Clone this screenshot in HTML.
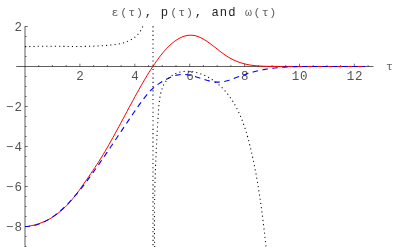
<!DOCTYPE html>
<html><head><meta charset="utf-8"><title>plot</title>
<style>
html,body{margin:0;padding:0;background:#fff;}
body{width:400px;height:247px;overflow:hidden;}
svg{display:block;}
text{font-family:"Liberation Mono",monospace;font-size:12.5px;fill:#505050;}
text.lt{font-size:11.6px;fill:#606060;}
text.dk{font-size:12.2px;fill:#1c1c1c;}
</style></head><body>
<svg width="400" height="247" viewBox="0 0 400 247">
<rect width="400" height="247" fill="#fff"/>
<g fill="none" stroke="#000" stroke-width="0.63">
<path d="M16.3 66.5H373.5M25.0 26.2V247"/>
<path d="M38.73 66.50V65.00M52.45 66.50V65.00M66.17 66.50V65.00M79.90 66.50V63.70M93.62 66.50V65.00M107.35 66.50V65.00M121.08 66.50V65.00M134.80 66.50V63.70M148.52 66.50V65.00M162.25 66.50V65.00M175.97 66.50V65.00M189.70 66.50V63.70M203.42 66.50V65.00M217.15 66.50V65.00M230.88 66.50V65.00M244.60 66.50V63.70M258.32 66.50V65.00M272.05 66.50V65.00M285.77 66.50V65.00M299.50 66.50V63.70M313.22 66.50V65.00M326.95 66.50V65.00M340.68 66.50V65.00M354.40 66.50V63.70M368.12 66.50V65.00M25.00 246.50H26.50M25.00 236.50H26.50M25.00 226.50H27.80M25.00 216.50H26.50M25.00 206.50H26.50M25.00 196.50H26.50M25.00 186.50H27.80M25.00 176.50H26.50M25.00 166.50H26.50M25.00 156.50H26.50M25.00 146.50H27.80M25.00 136.50H26.50M25.00 126.50H26.50M25.00 116.50H26.50M25.00 106.50H27.80M25.00 96.50H26.50M25.00 86.50H26.50M25.00 76.50H26.50M25.00 56.50H26.50M25.00 46.50H26.50M25.00 36.50H26.50M25.00 26.50H27.80" stroke-width="0.55"/>
</g>
<g style="will-change:transform;opacity:0.99"><text x="80.10" y="79.70" text-anchor="middle" xml:space="preserve">2</text><text x="135.00" y="79.70" text-anchor="middle" xml:space="preserve">4</text><text x="189.90" y="79.70" text-anchor="middle" xml:space="preserve">6</text><text x="244.80" y="79.70" text-anchor="middle" xml:space="preserve">8</text><text x="295.53 303.86" y="79.70" text-anchor="middle" xml:space="preserve">10</text><text x="350.43 358.76" y="79.70" text-anchor="middle" xml:space="preserve">12</text><text x="18.14" y="31.10" text-anchor="middle" xml:space="preserve">2</text><text x="9.81 18.14" y="111.10" text-anchor="middle" xml:space="preserve">−2</text><text x="9.81 18.14" y="151.10" text-anchor="middle" xml:space="preserve">−4</text><text x="9.81 18.14" y="191.10" text-anchor="middle" xml:space="preserve">−6</text><text x="9.81 18.14" y="231.10" text-anchor="middle" xml:space="preserve">−8</text>
<text x="389.4" y="70" text-anchor="middle" style="font-size:11.6px;fill:#666">τ</text>
<text x="114.97" y="16.20" text-anchor="middle" class="lt">ε</text><text x="123.65" y="16.20" text-anchor="middle" class="lt">(</text><text x="131.83" y="16.20" text-anchor="middle" class="lt">τ</text><text x="139.56" y="16.20" text-anchor="middle" class="lt">)</text><text x="148.49" y="16.20" text-anchor="middle" class="dk">,</text><text x="164.34" y="16.20" text-anchor="middle" class="dk">p</text><text x="173.63" y="16.20" text-anchor="middle" class="lt">(</text><text x="181.81" y="16.20" text-anchor="middle" class="lt">τ</text><text x="189.53" y="16.20" text-anchor="middle" class="lt">)</text><text x="198.47" y="16.20" text-anchor="middle" class="dk">,</text><text x="215.12" y="16.20" text-anchor="middle" class="dk">a</text><text x="223.46" y="16.20" text-anchor="middle" class="dk">n</text><text x="231.79" y="16.20" text-anchor="middle" class="dk">d</text><text x="248.44" y="16.20" text-anchor="middle" class="lt">ω</text><text x="256.93" y="16.20" text-anchor="middle" class="lt">(</text><text x="265.11" y="16.20" text-anchor="middle" class="lt">τ</text><text x="272.83" y="16.20" text-anchor="middle" class="lt">)</text>
</g>
<path d="M25.00 226.75L27.00 226.48L29.00 226.15L31.00 225.77L33.00 225.33L35.00 224.82L37.00 224.25L39.00 223.61L41.00 222.89L43.00 222.10L45.00 221.23L47.00 220.27L49.00 219.22L51.00 218.08L53.00 216.85L55.00 215.51L57.00 214.08L59.00 212.53L61.00 210.88L63.00 209.11L65.00 207.22L67.00 205.22L69.00 203.08L71.00 200.82L73.00 198.43L75.00 195.91L77.00 193.28L79.00 190.55L81.00 187.75L83.00 184.90L85.00 182.02L87.00 179.12L89.00 176.21L91.00 173.29L93.00 170.34L95.00 167.35L97.00 164.30L99.00 161.20L101.00 158.02L103.00 154.76L105.00 151.42L107.00 148.00L109.00 144.52L111.00 140.98L113.00 137.39L115.00 133.75L117.00 130.08L119.00 126.38L121.00 122.65L123.00 118.92L125.00 115.17L127.00 111.43L129.00 107.70L131.00 103.98L133.00 100.28L135.00 96.61L137.00 92.99L139.00 89.40L141.00 85.87L143.00 82.40L145.00 79.00L147.00 75.67L149.00 72.43L151.00 69.27L153.00 66.21L155.00 63.26L157.00 60.41L159.00 57.69L161.00 55.09L163.00 52.63L165.00 50.31L167.00 48.14L169.00 46.12L171.00 44.26L173.00 42.56L175.00 41.02L177.00 39.66L179.00 38.46L181.00 37.45L183.00 36.62L185.00 35.97L187.00 35.51L189.00 35.24L191.00 35.18L193.00 35.31L195.00 35.65L197.00 36.19L199.00 36.93L201.00 37.84L203.00 38.90L205.00 40.09L207.00 41.40L209.00 42.80L211.00 44.27L213.00 45.79L215.00 47.35L217.00 48.92L219.00 50.49L221.00 52.03L223.00 53.52L225.00 54.95L227.00 56.29L229.00 57.52L231.00 58.65L233.00 59.68L235.00 60.61L237.00 61.45L239.00 62.21L241.00 62.88L243.00 63.47L245.00 63.99L247.00 64.44L249.00 64.83L251.00 65.16L253.00 65.44L255.00 65.67L257.00 65.86L259.00 66.00L261.00 66.12L263.00 66.21L265.00 66.27L267.00 66.32L269.00 66.35L271.00 66.37L273.00 66.39L275.00 66.41L277.00 66.42L279.00 66.43L281.00 66.45L283.00 66.46L285.00 66.47L287.00 66.48L289.00 66.49L291.00 66.49L293.00 66.50L295.00 66.50L297.00 66.51L299.00 66.51L301.00 66.52L303.00 66.52L305.00 66.52L307.00 66.52L309.00 66.52L311.00 66.52L313.00 66.52L315.00 66.52L317.00 66.51L319.00 66.51L321.00 66.51L323.00 66.51L325.00 66.51L327.00 66.50L329.00 66.50L331.00 66.50L333.00 66.50L335.00 66.49L337.00 66.49L339.00 66.49L341.00 66.49L343.00 66.49L345.00 66.49L347.00 66.49L349.00 66.49L351.00 66.49L353.00 66.49L355.00 66.49L357.00 66.49L359.00 66.50L361.00 66.50L363.00 66.51L365.00 66.51" fill="none" stroke="#ff0000" stroke-width="1.0"/>
<path d="M25.00 226.47L27.00 226.45L29.00 226.32L31.00 226.07L33.00 225.72L35.00 225.27L37.00 224.71L39.00 224.04L41.00 223.27L43.00 222.40L45.00 221.44L47.00 220.37L49.00 219.21L51.00 217.95L53.00 216.60L55.00 215.16L57.00 213.62L59.00 212.00L61.00 210.29L63.00 208.49L65.00 206.61L67.00 204.64L69.00 202.59L71.00 200.46L73.00 198.25L75.00 195.96L77.00 193.60L79.00 191.17L81.00 188.68L83.00 186.13L85.00 183.52L87.00 180.86L89.00 178.15L91.00 175.40L93.00 172.62L95.00 169.80L97.00 166.95L99.00 164.07L101.00 161.17L103.00 158.26L105.00 155.33L107.00 152.39L109.00 149.44L111.00 146.47L113.00 143.50L115.00 140.52L117.00 137.54L119.00 134.56L121.00 131.57L123.00 128.59L125.00 125.61L127.00 122.64L129.00 119.68L131.00 116.72L133.00 113.78L135.00 110.85L137.00 107.95L139.00 105.10L141.00 102.32L143.00 99.62L145.00 97.04L147.00 94.59L149.00 92.30L151.00 90.18L153.00 88.25L155.00 86.53L157.00 84.99L159.00 83.60L161.00 82.32L163.00 81.11L165.00 79.97L167.00 78.90L169.00 77.92L171.00 77.04L173.00 76.27L175.00 75.61L177.00 75.09L179.00 74.72L181.00 74.49L183.00 74.43L185.00 74.52L187.00 74.73L189.00 75.07L191.00 75.49L193.00 76.00L195.00 76.57L197.00 77.19L199.00 77.83L201.00 78.48L203.00 79.13L205.00 79.75L207.00 80.33L209.00 80.86L211.00 81.32L213.00 81.68L215.00 81.94L217.00 82.08L219.00 82.08L221.00 81.93L223.00 81.65L225.00 81.25L227.00 80.76L229.00 80.18L231.00 79.53L233.00 78.83L235.00 78.09L237.00 77.33L239.00 76.57L241.00 75.82L243.00 75.09L245.00 74.40L247.00 73.75L249.00 73.14L251.00 72.56L253.00 72.01L255.00 71.50L257.00 71.02L259.00 70.58L261.00 70.16L263.00 69.77L265.00 69.41L267.00 69.08L269.00 68.77L271.00 68.48L273.00 68.23L275.00 67.99L277.00 67.77L279.00 67.58L281.00 67.40L283.00 67.25L285.00 67.11L287.00 66.99L289.00 66.88L291.00 66.79L293.00 66.71L295.00 66.64L297.00 66.58L299.00 66.54L301.00 66.51L303.00 66.48L305.00 66.46L307.00 66.45L309.00 66.45L311.00 66.45L313.00 66.45L315.00 66.46L317.00 66.47L319.00 66.49L321.00 66.50L323.00 66.51L325.00 66.52L327.00 66.53L329.00 66.54L331.00 66.54L333.00 66.54L335.00 66.53L337.00 66.53L339.00 66.52L341.00 66.51L343.00 66.51L345.00 66.50L347.00 66.49L349.00 66.48L351.00 66.48L353.00 66.47L355.00 66.47L357.00 66.47L359.00 66.48L361.00 66.49L363.00 66.50L365.00 66.52" fill="none" stroke="#0000ff" stroke-width="1.1" stroke-dasharray="5.6 4.4" stroke-dashoffset="0.6"/>
<g fill="none" stroke="#000" stroke-width="1.05" stroke-dasharray="1.1 3.17">
<path d="M24.96 46.72L26.02 46.67L27.09 46.63L28.15 46.58L29.21 46.55L30.27 46.51L31.33 46.48L32.39 46.45L33.44 46.42L34.50 46.40L35.56 46.38L36.61 46.36L37.67 46.34L38.72 46.32L39.77 46.31L40.83 46.30L41.88 46.29L42.93 46.29L43.98 46.28L45.03 46.28L46.08 46.28L47.13 46.28L48.18 46.28L49.23 46.28L50.27 46.28L51.32 46.29L52.37 46.29L53.42 46.30L54.46 46.31L55.51 46.32L56.56 46.32L57.60 46.33L58.65 46.34L59.69 46.35L60.74 46.36L61.79 46.37L62.83 46.38L63.88 46.39L64.92 46.40L65.97 46.41L67.01 46.42L68.06 46.42L69.11 46.43L70.15 46.44L71.20 46.44L72.24 46.45L73.29 46.45L74.34 46.45L75.39 46.45L76.43 46.45L77.48 46.45L78.53 46.45L79.58 46.44L80.63 46.43L81.68 46.42L82.73 46.41L83.78 46.40L84.83 46.38L85.88 46.37L86.93 46.35L87.98 46.32L89.04 46.30L90.09 46.27L91.15 46.24L92.20 46.21L93.26 46.17L94.32 46.13L95.37 46.09L96.43 46.04L97.49 45.99L98.55 45.94L99.61 45.88L100.68 45.82L101.74 45.75L102.80 45.68L103.87 45.61L104.93 45.53L106.00 45.45L107.07 45.37L108.14 45.28L109.21 45.18L110.28 45.08L111.35 44.97L112.41 44.85L113.47 44.72L114.53 44.58L115.59 44.43L116.64 44.27L117.68 44.09L118.72 43.90L119.74 43.69L120.77 43.46L121.78 43.22L122.78 42.96L123.77 42.68L124.75 42.37L125.72 42.05L126.67 41.70L127.62 41.33L128.54 40.93L129.46 40.51L130.35 40.06L131.23 39.58L132.10 39.08L132.94 38.54L133.77 37.98L134.57 37.38L135.36 36.75L136.12 36.08L136.86 35.38L137.58 34.64L138.28 33.87L138.95 33.06L139.60 32.21L140.22 31.32L140.81 30.38L141.38 29.41L141.92 28.39L142.43 27.33L142.91 26.23"/>
<path d="M154.70 247.01L154.68 245.99L154.66 244.97L154.64 243.95L154.62 242.94L154.60 241.92L154.58 240.91L154.56 239.89L154.54 238.88L154.53 237.87L154.51 236.85L154.50 235.84L154.48 234.83L154.47 233.82L154.46 232.81L154.45 231.80L154.44 230.80L154.43 229.79L154.43 228.78L154.42 227.77L154.41 226.77L154.41 225.76L154.41 224.76L154.40 223.76L154.40 222.75L154.40 221.75L154.40 220.75L154.40 219.75L154.40 218.74L154.40 217.74L154.41 216.74L154.41 215.74L154.41 214.74L154.42 213.74L154.43 212.75L154.43 211.75L154.44 210.75L154.45 209.75L154.46 208.76L154.47 207.76L154.48 206.76L154.49 205.77L154.50 204.77L154.52 203.78L154.53 202.78L154.55 201.79L154.56 200.79L154.58 199.80L154.60 198.81L154.62 197.81L154.63 196.82L154.65 195.83L154.67 194.83L154.69 193.84L154.72 192.85L154.74 191.86L154.76 190.87L154.79 189.87L154.81 188.88L154.84 187.89L154.86 186.90L154.89 185.91L154.92 184.92L154.94 183.93L154.97 182.94L155.00 181.95L155.03 180.96L155.06 179.96L155.09 178.97L155.13 177.98L155.16 176.99L155.19 176.00L155.23 175.01L155.26 174.02L155.29 173.03L155.33 172.04L155.37 171.05L155.40 170.06L155.44 169.07L155.48 168.08L155.52 167.09L155.56 166.10L155.60 165.11L155.64 164.12L155.68 163.13L155.72 162.14L155.76 161.15L155.81 160.15L155.85 159.16L155.89 158.17L155.94 157.18L155.98 156.19L156.03 155.19L156.07 154.20L156.12 153.21L156.17 152.22L156.22 151.22L156.26 150.23L156.31 149.24L156.36 148.24L156.41 147.25L156.46 146.25L156.51 145.26L156.56 144.26L156.61 143.27L156.67 142.27L156.72 141.28L156.77 140.28L156.82 139.28L156.88 138.28L156.93 137.29L156.99 136.29L157.04 135.29L157.10 134.29L157.15 133.29L157.21 132.29L157.27 131.29L157.32 130.29L157.38 129.29L157.44 128.29L157.50 127.28L157.56 126.28L157.62 125.28L157.68 124.27L157.74 123.27L157.80 122.26L157.86 121.26L157.92 120.25L157.98 119.25L158.04 118.24L158.10 117.23L158.17 116.22L158.23 115.21L158.29 114.20L158.35 113.19L158.42 112.18L158.48 111.17L158.55 110.16L158.62 109.14L158.69 108.13L158.77 107.12L158.85 106.11L158.94 105.10L159.04 104.09L159.14 103.09L159.25 102.08L159.37 101.08L159.51 100.08L159.65 99.09L159.80 98.09L159.97 97.10L160.15 96.12L160.35 95.13L160.56 94.15L160.79 93.18L161.04 92.21L161.30 91.24L161.58 90.28L161.88 89.33L162.21 88.38L162.55 87.44L162.92 86.51L163.32 85.59L163.76 84.70L164.23 83.83L164.73 82.98L165.27 82.16L165.84 81.36L166.45 80.59L167.09 79.85L167.75 79.14L168.45 78.45L169.17 77.79L169.91 77.16L170.68 76.56L171.48 75.99L172.29 75.45L173.12 74.94L173.98 74.46L174.85 74.01L175.73 73.60L176.63 73.22L177.55 72.87L178.47 72.56L179.41 72.28L180.36 72.04L181.31 71.83L182.27 71.66L183.24 71.52L184.21 71.41L185.19 71.34L186.17 71.29L187.16 71.28L188.15 71.30L189.15 71.35L190.14 71.43L191.14 71.53L192.13 71.67L193.13 71.83L194.13 72.01L195.12 72.22L196.11 72.46L197.10 72.72L198.09 73.00L199.07 73.31L200.05 73.63L201.02 73.98L201.99 74.35L202.95 74.74L203.90 75.15L204.84 75.57L205.77 76.02L206.70 76.48L207.61 76.95L208.52 77.44L209.41 77.95L210.29 78.47L211.15 79.00L212.01 79.55L212.85 80.11L213.68 80.68L214.50 81.27L215.30 81.86L216.10 82.47L216.88 83.09L217.65 83.72L218.41 84.37L219.16 85.02L219.90 85.68L220.62 86.36L221.34 87.04L222.04 87.73L222.73 88.44L223.42 89.15L224.09 89.87L224.75 90.60L225.40 91.34L226.04 92.08L226.67 92.84L227.29 93.60L227.90 94.36L228.50 95.14L229.09 95.92L229.67 96.71L230.24 97.51L230.80 98.31L231.35 99.12L231.89 99.94L232.43 100.76L232.95 101.59L233.47 102.43L233.98 103.27L234.47 104.12L234.97 104.97L235.45 105.83L235.92 106.69L236.39 107.56L236.85 108.44L237.30 109.32L237.74 110.21L238.17 111.10L238.60 111.99L239.02 112.89L239.44 113.79L239.84 114.70L240.24 115.62L240.63 116.53L241.02 117.45L241.40 118.38L241.77 119.31L242.14 120.24L242.50 121.18L242.85 122.12L243.20 123.06L243.54 124.00L243.88 124.95L244.21 125.90L244.54 126.86L244.86 127.82L245.18 128.77L245.49 129.74L245.79 130.70L246.09 131.67L246.39 132.63L246.68 133.60L246.97 134.58L247.25 135.55L247.53 136.52L247.80 137.50L248.07 138.48L248.34 139.46L248.60 140.43L248.86 141.41L249.12 142.40L249.37 143.38L249.62 144.36L249.86 145.34L250.11 146.32L250.35 147.31L250.59 148.29L250.82 149.27L251.05 150.25L251.28 151.23L251.51 152.21L251.74 153.20L251.96 154.18L252.18 155.16L252.40 156.14L252.62 157.12L252.83 158.09L253.04 159.07L253.25 160.05L253.46 161.03L253.66 162.01L253.87 162.99L254.07 163.96L254.27 164.94L254.47 165.92L254.66 166.90L254.85 167.87L255.05 168.85L255.24 169.83L255.42 170.80L255.61 171.78L255.79 172.76L255.97 173.73L256.15 174.71L256.33 175.69L256.51 176.66L256.68 177.64L256.86 178.62L257.03 179.59L257.20 180.57L257.37 181.55L257.53 182.52L257.70 183.50L257.86 184.48L258.02 185.46L258.18 186.43L258.34 187.41L258.50 188.39L258.66 189.37L258.81 190.34L258.96 191.32L259.11 192.30L259.27 193.28L259.41 194.26L259.56 195.24L259.71 196.22L259.85 197.20L260.00 198.18L260.14 199.16L260.28 200.14L260.42 201.12L260.56 202.10L260.70 203.08L260.84 204.07L260.97 205.05L261.11 206.03L261.24 207.02L261.37 208.00L261.50 208.99L261.63 209.97L261.76 210.96L261.89 211.94L262.02 212.93L262.15 213.92L262.28 214.91L262.40 215.89L262.53 216.88L262.65 217.87L262.77 218.86L262.90 219.85L263.02 220.85L263.14 221.84L263.26 222.83L263.38 223.82L263.50 224.82L263.62 225.81L263.73 226.81L263.85 227.81L263.97 228.80L264.09 229.80L264.20 230.80L264.32 231.80L264.43 232.80L264.55 233.80L264.66 234.81L264.78 235.81L264.89 236.81L265.00 237.82L265.12 238.82L265.23 239.83L265.34 240.84L265.46 241.85L265.57 242.86L265.68 243.87L265.79 244.88L265.91 245.89L266.02 246.91"/>
<path d="M153 26.3V247"/>
</g>
</svg>
</body></html>
